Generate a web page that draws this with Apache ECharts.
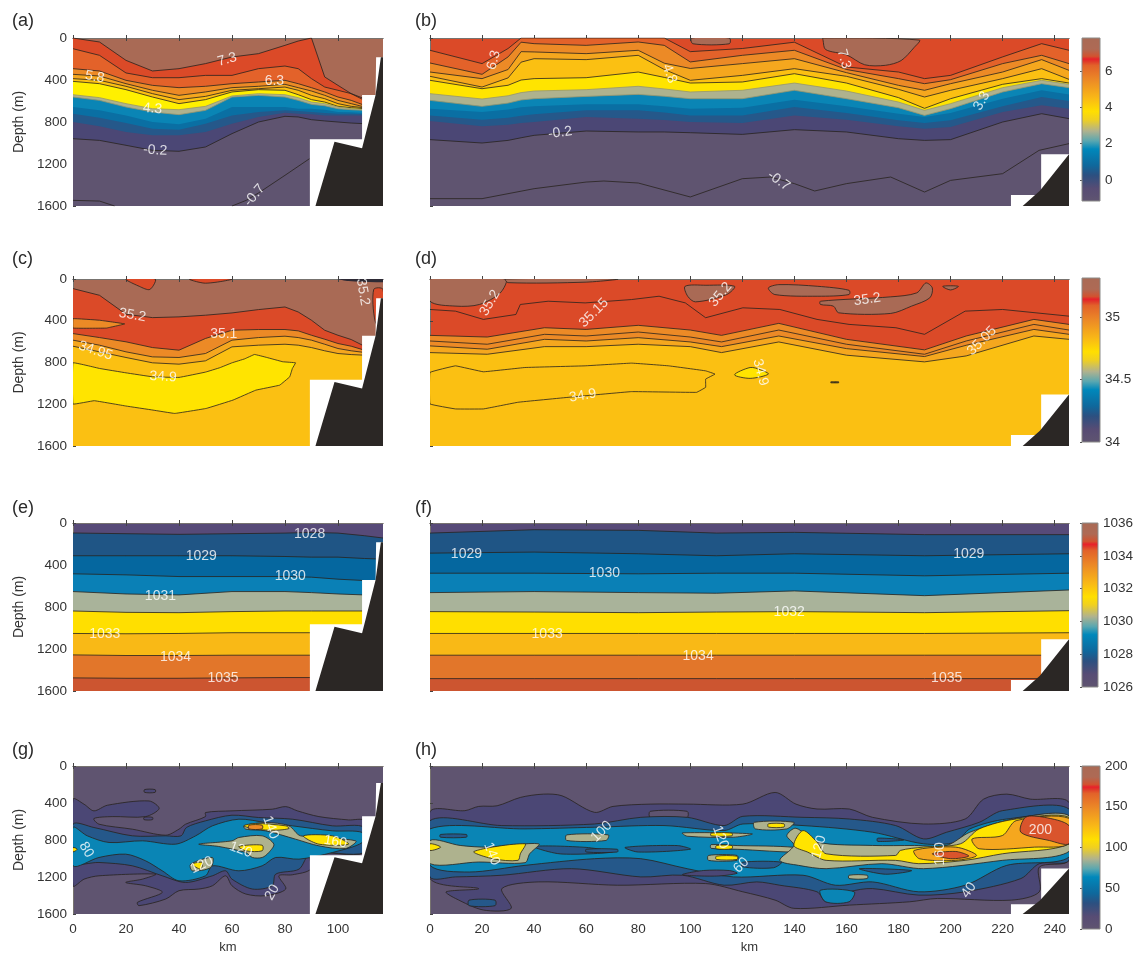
<!DOCTYPE html>
<html><head><meta charset="utf-8">
<script src="https://cdn.jsdelivr.net/npm/echarts@6/dist/echarts.min.js"></script>
<style>html,body{margin:0;background:#fff}#c{width:1136px;height:955px}</style></head>
<body><div id="c"></div>
<script>
// ---------- Palette names ----------
const BROWN='#a96a55',RED='#db4a28',ORED='#e3622a',ORANGE='#ec8a26',AMBER='#f5a71e',GOLD='#fbc012',YELLOW='#ffe400',BYELLOW='#fff000',
 SAGE='#aeb28e',LBLUE='#0a85b5',BLUE='#0a6fa3',DARK='#25588a',PURPLE='#4b4775',GRAY='#5f5470';
const LN='rgba(40,35,30,.8)',SL='rgba(150,150,110,.8)',NL='rgba(0,0,0,0)';

// ---------- Shared terrain ----------
const shortWhite=[[89.4,1600],[89.4,965],[109.1,965],[109.1,543],[114.2,543],[114.4,184],[117,184],[117,1600]];
const shortRock=[[91.5,1600],[98.7,987],[109.1,1050],[114.2,543],[116.2,184],[117,184],[117,1600]];
const longWhite=[[223.2,1600],[223.2,1495],[234.8,1495],[234.8,1107],[245.5,1107],[245.5,1600]];
const longRock=[[227.7,1600],[234.3,1454],[245.5,1107],[245.5,1600]];

// ---------- (a) temperature, short section ----------
const aKm=[0,10,20,30,40,50,60,70,80,85,90,95,100,105,110,117];
const aDepths=[
 [0,38,213,314,292,244,181,149,70,29,0,371,451,530,578,594],
 [102,165,333,378,378,356,356,292,267,292,387,467,498,530,594,610],
 [292,314,403,451,473,460,435,419,403,435,473,514,562,594,641,657],
 [346,362,435,498,546,514,473,460,441,473,505,546,594,625,657,657],
 [387,403,460,530,587,556,498,483,467,498,546,578,625,651,664,664],
 [413,435,492,562,625,587,514,492,498,540,587,610,651,664,673,673],
 [540,568,625,673,683,651,552,530,540,568,610,625,657,673,683,683],
 [562,594,657,705,730,689,562,546,562,594,632,645,673,683,689,689],
 [657,689,737,800,822,768,657,657,657,673,673,683,705,708,714,714],
 [721,759,810,864,873,816,737,705,689,695,705,714,721,721,727,727],
 [800,841,895,927,927,895,816,752,711,721,727,737,737,737,737,737],
 [959,975,1022,1070,1079,1038,911,800,746,752,778,790,800,810,816,816]];
const aFills=[RED,ORED,ORANGE,AMBER,GOLD,BYELLOW,SAGE,LBLUE,BLUE,DARK,PURPLE,GRAY];
const aStrokes=[LN,LN,LN,LN,LN,LN,SL,SL,NL,NL,NL,LN];
const aContours=[[[60,1600],[65.4,1546],[70,1476],[80,1308],[89.3,1149]],[[0,1546],[10,1553],[15.7,1600]]];
const aLabels=[[58.2,206,'7.3',15],[8.2,371,'5.8',-10],[76,413,'6.3',0],[30,673,'4.3',-5],[31,1070,'-0.2',-3],[68.5,1499,'-0.7',50]];

// ---------- (b) temperature, long section ----------
const bKm=[0,20,30,35,40,60,80,90,100,120,140,160,180,190,200,220,235,245.5];
const bDepths=[
 [117,244,100,0,0,0,0,0,130,100,40,276,324,387,356,180,54,117],
 [238,346,180,40,54,70,38,70,228,165,117,300,387,435,397,244,165,244],
 [324,387,300,130,133,149,117,240,290,244,197,330,451,498,435,324,206,308],
 [365,467,380,230,197,206,165,300,403,356,292,365,489,562,498,387,292,394],
 [403,483,450,400,387,378,324,375,429,419,340,429,568,670,578,441,387,429],
 [530,581,550,520,505,492,460,485,514,498,429,505,610,689,625,473,403,441],
 [594,651,620,590,578,556,537,555,578,578,498,578,664,737,673,514,435,473],
 [673,705,680,660,651,632,632,650,673,664,587,651,721,752,714,578,498,537],
 [737,778,760,740,727,689,689,710,737,737,657,714,784,810,784,651,562,600],
 [791,841,825,810,800,752,768,780,800,810,737,778,841,864,848,705,641,673],
 [968,1000,975,950,927,886,895,895,902,918,873,895,959,975,968,800,721,768]];
const bFills=[ORED,ORANGE,AMBER,GOLD,YELLOW,SAGE,LBLUE,BLUE,DARK,PURPLE,GRAY];
const bStrokes=[LN,LN,LN,LN,LN,SL,SL,NL,NL,NL,LN];
const bBrown=[[[151,20],[152,110],[160,160],[167,255],[175,260],[181,215],[186,90],[188,20],[151,0]],[[100.5,0],[101,55],[115,55],[115,0]]];
const bContours=[[[0,1530],[20,1530],[40,1435],[60,1372],[66.8,1362],[80,1381],[100,1514],[120,1340],[130.9,1324],[140,1387],[147.8,1457],[160,1387],[177,1324],[190,1467],[200,1356],[220,1292],[234,1070],[245.5,1006]]];
const bLabels=[[24.5,210,'6.3',75],[92,340,'4.8',-70],[159,200,'7.3',-75],[50,902,'-0.2',8],[134,1360,'-0.7',-35],[212,600,'3.3',60]];

// ---------- (c) salinity, short section ----------
const cDepths=[
 [92,156,338,370,363,347,325,293,268,316,395,491,539,580,644,650],
 [523,561,602,657,682,570,491,484,484,497,539,577,618,644,682,688],
 [586,634,698,746,752,714,586,561,548,561,586,625,666,688,704,704],
 [644,698,752,803,816,784,650,634,625,634,657,688,714,724,730,730]];
const cFills=[RED,ORANGE,AMBER,GOLD];
const cWedge=[[0,380],[10,395],[19.5,430],[12.6,470],[0,470]];
const cRedPatches=[[[20,0],[31,0],[29,100],[25,70]],[[44,0],[60,0],[50,40]],[[113.5,100],[117,100],[117,500],[114,400]]];
const cDark=[[100,0],[117,0],[117,30],[104,20]];
const cYellow=[[0,803],[10,857],[20,899],[30,937],[40,943],[50,892],[55.4,850],[60,803],[64.8,765],[68.5,723],[73.2,752],[79.2,793],[84,803],[82.8,857],[81.8,937],[78,1017],[69,1065],[60.4,1160],[50.3,1240],[38.4,1288],[30.2,1256],[20,1217],[8,1166],[0,1198]];
const cLabels=[[22.4,347,'35.2',-10],[56.9,529,'35.1',0],[8.5,688,'34.95',-18],[34,937,'34.9',-3],[109.4,125,'35.2',-80]];

// ---------- (d) salinity, long section ----------
const dKm=[0,22,44,60,80,100,112,134,160,190,206,232,245.5];
const dDepths=[
 [540,556,467,483,444,489,540,425,578,679,546,387,435],
 [594,625,530,546,508,556,603,489,625,721,594,435,489],
 [641,673,578,594,562,603,648,546,667,743,635,483,530],
 [705,721,648,648,625,648,705,603,730,794,737,546,578]];
const dFills=[ORANGE,ORANGE,AMBER,GOLD];
const dBrown=[
 [[0,0],[29,0],[27,133],[19,244],[10,260],[0,213]],
 [[29,0],[72,0],[60,30],[30,35]],
 [[98,70],[106,60],[117,70],[114,149],[102,219],[99,165]],
 [[130,86],[134,54],[149,70],[161,108],[161,149],[149,165],[132.5,149]],
 [[150,213],[177,171],[187,133],[190.5,38],[193,86],[192,181],[185,260],[177,330],[157,324],[155,260],[150,244]],
 [[197,70],[203,70],[200,105]]];
const dContours=[[[0,292],[9.8,308],[20.5,387],[33,340],[34.7,244],[45.4,213],[59.6,229],[77.4,197],[88,165],[98.1,229],[105.9,371],[120.2,276],[134.4,292],[148.7,387],[161,435],[179,467],[190,530],[205.6,308],[220,292],[245.5,356]]];
const dRing=[[0,895],[9.8,832],[20.5,889],[36.5,848],[59.6,832],[77.4,806],[91.7,832],[105.9,880],[109.5,911],[105.9,959],[105.9,1038],[102.4,1086],[77.4,1079],[53.4,1133],[33.8,1181],[20.5,1245],[9.8,1245],[0,1197]];
const dYellow=[[117,918],[123,848],[127,870],[130,911],[123,952]];
const dSpot=[[154,985],[157,985],[157,995],[154,995]];
const dLabels=[[23,229,'35.2',60],[63,324,'35.15',45],[111.6,149,'35.2',50],[168,197,'35.2',8],[212,594,'35.05',45],[58.7,1118,'34.9',10],[127,895,'34.9',-75]];

// ---------- (e) density, short section ----------
const eKm=[0,20,40,60,80,90,100,110,117];
const eDepths=[
 [95,102,108,102,96,90,96,121,143],
 [312,312,312,312,319,325,325,338,344],
 [484,494,510,510,510,516,535,548,548],
 [653,676,685,653,653,663,676,685,685],
 [838,851,854,844,838,838,838,838,838],
 [1052,1055,1052,1045,1045,1045,1045,1045,1045],
 [1256,1262,1262,1259,1259,1259,1259,1259,1259],
 [1475,1479,1479,1475,1472,1472,1472,1472,1472]];
const rhoFills=['#1f5585','#05679f','#0a80b6','#a9b39a','#ffdf00','#f9b916','#e2762a','#cc5530'];
const eLabels=[[89.3,102,'1028',0],[48.4,319,'1029',0],[82,510,'1030',0],[33,692,'1031',0],[12,1058,'1033',0],[38.7,1275,'1034',0],[56.6,1482,'1035',0]];

// ---------- (f) density, long section ----------
const fKm=[0,40,80,110,140,190,245.5];
const fDepths=[
 [96,64,70,96,89,111,111],
 [287,277,293,312,293,312,293],
 [478,478,484,478,478,503,478],
 [663,653,663,669,647,692,638],
 [844,848,854,848,844,854,835],
 [1052,1052,1052,1052,1052,1052,1045],
 [1259,1259,1259,1259,1259,1259,1259],
 [1482,1482,1482,1482,1482,1482,1482]];
const fLabels=[[14,293,'1029',0],[207,293,'1029',0],[67,478,'1030',0],[138,851,'1032',0],[45,1058,'1033',0],[103,1268,'1034',0],[198.5,1482,'1035',0]];

// ---------- (g) backscatter, short section ----------
const gPurple=[[0,360],[4.2,414],[7.9,485],[13,424],[28.7,378],[32.5,460],[27.4,547],[14.8,547],[7.9,568],[9.8,629],[22.4,683],[35,748],[40,683],[42.5,629],[50,547],[50,503],[60,485],[75.2,467],[80.3,439],[84.7,485],[92.8,547],[104,583],[110,593],[110,935],[89.7,942],[89.7,1115],[82.8,1176],[77.7,1187],[80.3,1330],[72.7,1402],[65.2,1384],[60,1295],[57.6,1187],[52.6,1295],[47.5,1330],[40,1348],[35,1438],[24.9,1510],[24.3,1474],[33.7,1366],[27.4,1295],[19.9,1259],[26.2,1223],[31.2,1169],[9.8,1187],[4.2,1223],[0,1295]];
const gSpecks=[[[27,255],[31,255],[31,285],[27,285]],[[26.8,555],[30,555],[30,580],[26.8,580]]];
const gDark=[[0,629],[7.9,665],[22.4,755],[35,755],[40.8,755],[42.8,665],[50,593],[60,532],[70,557],[82.8,575],[97.9,647],[110,665],[110,935],[89.7,942],[85.3,1115],[76.5,1169],[75.2,1295],[67.7,1330],[60,1223],[57.6,1133],[52.6,1187],[42.5,1259],[33.7,1187],[22.4,1079],[9.8,1043],[0,1043]];
const gBlue=[[0,665],[5.4,755],[13.6,827],[26.2,809],[38.7,845],[46.3,755],[52.6,647],[62.6,575],[72.7,611],[82.8,647],[97.9,701],[109.2,719],[109.2,827],[97.9,935],[85.3,1007],[76.5,989],[71.4,1079],[62.6,1133],[52.6,1079],[50,1187],[40,1241],[33.7,1133],[27.4,1025],[19.9,953],[9.8,989],[0,1079]];
const gSage=[
 [[47.5,845],[60,809],[62.6,773],[71.4,755],[75.8,845],[73.9,935],[71.4,989],[67.7,989],[65.2,935],[55,870]],
 [[64.5,647],[72.7,611],[81.5,647],[85.9,755],[106.7,809],[102.9,892],[92.8,863],[84,791],[72.7,701],[65.2,683]],
 [[44.4,1061],[52.6,989],[52,1097],[45,1133]]];
const gYellow=[
 [[64.5,647],[68.9,622],[80.3,647],[81.5,676],[76.5,694],[68.9,683]],
 [[62.6,870],[71.4,856],[71.4,917],[65.2,917]],
 [[87,755],[97.9,755],[104,845],[92.8,845]],
 [[45,1061],[48.8,1043],[48.2,1115]],
 [[0,881],[1.6,899],[0,928]]];
const gOrange=[[66.4,640],[71.4,640],[71.4,680],[66.4,680]];
const gLabels=[[5,906,'80',-60],[99,820,'160',-10],[63.3,906,'120',-20],[48.6,1072,'120',25],[74.6,665,'140',-70],[75.2,1366,'20',60]];

// ---------- (h) backscatter, long section ----------
const hPurple=[[0,494],[13.4,483],[18.7,437],[25.8,430],[34.7,340],[43.6,304],[50.7,322],[63.2,501],[70.3,437],[84.6,412],[98.8,412],[120.2,412],[132.6,286],[140.6,412],[148.7,465],[161.1,465],[170,555],[189.6,627],[205.6,573],[212.7,358],[221.6,304],[230.6,358],[245.5,394],[245.5,1020],[234.1,1092],[234.1,1360],[223.4,1450],[194.9,1432],[184.3,1468],[161.1,1504],[139.8,1539],[132.6,1450],[120.2,1360],[105.9,1271],[72.1,1289],[41.8,1253],[27.6,1325],[31.2,1539],[20.5,1557],[9.8,1432],[6.2,1360],[18.7,1325],[0,1217]];
const hHoles=[[[84.6,490],[98.8,490],[98.8,555],[84.6,555]]];
const hDark=[[0,591],[27.6,644],[63.2,627],[81,555],[98.8,555],[113,644],[120.2,544],[143.3,555],[161.1,573],[178.9,644],[189.6,788],[198.5,716],[211,609],[219.9,483],[245.5,465],[245.5,1020],[234.1,1056],[227,1217],[205.6,1360],[187.8,1396],[170,1325],[161.1,1360],[152.2,1468],[148.7,1360],[134.4,1289],[125.5,1253],[113,1289],[97,1181],[81,1199],[54.3,1110],[27.6,1181],[9.8,1199],[0,1199]];
const hBlue=[[0,680],[36.5,680],[63.2,662],[89.9,644],[113,698],[120.2,627],[143.3,644],[170,716],[189.6,841],[202,823],[207.4,680],[221.6,573],[245.5,555],[245.5,985],[221.6,1074],[205.6,1289],[187.8,1360],[170,1253],[155.8,1289],[143.3,1181],[116.6,1199],[98.8,1110],[81,1002],[63.2,1002],[36.5,1074],[15.1,1146],[0,1074]];
const hBlueLow=[[150,1343],[163,1360],[161,1468],[152,1468]];
const hPatchDark=[[15,1450],[25,1450],[25,1510],[15,1510]];
const hPurpleHole=[[105,1130],[115,1130],[118,1160],[110,1190],[97,1175]];
const hDarkSpots=[
 [[40,870],[60,880],[70,930],[50,950]],
 [[75,880],[95,860],[100,900],[80,930]],
 [[4,740],[14,740],[14,770],[4,770]],
 [[60,900],[72,900],[72,930],[60,930]],
 [[120,1040],[135,1040],[132,1100],[120,1090]],
 [[165,1110],[185,1130],[175,1170]],
 [[172,780],[182,800],[172,815]]];
const hSage=[
 [[0,805],[11.6,859],[22.3,877],[41.8,841],[38.3,949],[36.5,1045],[18.7,1038],[0,1056]],
 [[52.5,745],[68.5,745],[67.6,805],[52.5,805]],
 [[97,723],[123.7,734],[116.6,770],[98.8,759]],
 [[108,850],[118,860],[140,880],[142,930],[118,900],[108,890]],
 [[107,967],[118,967],[118,1020],[107,1020]],
 [[124.6,609],[139.8,609],[137,680],[125,680]],
 [[161,1181],[168,1181],[168,1217],[161,1217]],
 [[134.4,1020],[139.8,859],[137.1,752],[140.6,673],[148.7,823],[170,859],[186.1,859],[198.5,859],[207.4,716],[225.2,566],[245.5,537],[245.5,924],[219.9,1020],[189.6,1110],[173.6,1056],[152.2,1110],[141.6,1074]]];
const hYellow=[
 [[139.8,859],[143.3,698],[148.7,823],[152.2,949],[178.9,967],[180.7,913],[189.6,877],[203.8,841],[211,680],[225.2,573],[245.5,555],[245.5,841],[219.9,949],[205.6,1020],[187.8,1056],[178.9,1020],[152.2,1020],[145.1,931]],
 [[16.9,924],[36.5,841],[34.7,949],[33.8,1020],[24,1002]],
 [[0,841],[4.1,877],[0,913]],
 [[108,726],[116,726],[116,755],[108,755]],
 [[110,860],[116,860],[116,895],[110,895]],
 [[110,975],[118,975],[118,1010],[110,1010]],
 [[130,625],[136,625],[136,660],[130,660]]];
const hAmber=[
 [[208.3,788],[219.9,752],[225.2,591],[245.5,566],[245.5,841],[232.3,877],[211,895]],
 [[186,913],[202,877],[210,967],[202,1020],[188,1002]]];
const hRed=[
 [[228.8,555],[236,555],[245.5,644],[245.5,841],[238,806],[227,716]],
 [[193,949],[202,924],[207,974],[200,1002]]];
const hLabels=[[65.9,709,'100',45],[23.7,949,'140',-70],[111.6,770,'120',-70],[119.6,1074,'60',45],[149.5,877,'120',75],[196,949,'160',90],[234.5,691,'200',0],[207,1343,'40',55]];

// ---------- Axes, colour bars, panel text ----------
const depthTicks=[0,400,800,1200,1600];
const shortKmTicks=[0,20,40,60,80,100];
const longKmTicks=[0,20,40,60,80,100,120,140,160,180,200,220,240];
const panelNames=['(a)','(b)','(c)','(d)','(e)','(f)','(g)','(h)'];
const tempBar={min:-1.15,max:7.8,ticks:[0,2,4,6]};
const saltBar={min:34,max:35.31,ticks:[34,34.5,35]};
const rhoBar={min:1026,max:1036,ticks:[1026,1028,1030,1032,1034,1036]};
const bsBar={min:0,max:200,ticks:[0,50,100,150,200]};
const barStops=[[0,'#5f5470'],[.08,'#574c74'],[.16,'#2c5080'],[.22,'#0f689c'],[.32,'#0088bb'],[.37,'#5aa7b0'],[.43,'#b0b28e'],[.5,'#f0d020'],[.55,'#ffdf00'],[.63,'#f9b916'],[.74,'#ec8a26'],[.83,'#e2622a'],[.855,'#e0382a'],[.868,'#e8202a'],[.885,'#d2522f'],[.93,'#ae6a55'],[1,'#a96a55']];

const FONT='"Liberation Sans",Arial,sans-serif';
const plain=v=>String(v);
const W=[310,639],L=[73,430],T=[38,279,523,766],H=[168,167,168,150];
const grids=[],xAxes=[],yAxes=[],series=[],titles=[];
const axisLine={lineStyle:{color:'#77736f',width:1}};
function tickStyle(vals){return {show:true,inside:true,length:3,customValues:vals,lineStyle:{color:'#444',width:1}};}
for(let i=0;i<8;i++){
  const col=i%2,row=i>>1,xMax=col?245.5:117,kt=col?longKmTicks:shortKmTicks;
  grids.push({left:L[col],top:T[row],width:W[col],height:H[row],show:true,borderWidth:0,
    backgroundColor:[BROWN,RED,BROWN,RED,'#574a78','#574a78',GRAY,GRAY][i]});
  const last=row===3;
  xAxes.push({type:'value',gridIndex:i,min:0,max:xMax,position:'bottom',axisLine,axisTick:tickStyle(kt),splitLine:{show:false},
    axisLabel:{show:last,color:'#333',fontFamily:FONT,fontSize:13.5,margin:8,customValues:kt,formatter:plain},
    name:last?'km':'',nameLocation:'middle',nameGap:27,nameTextStyle:{color:'#333',fontFamily:FONT,fontSize:13}});
  xAxes.push({type:'value',gridIndex:i,min:0,max:xMax,position:'top',axisLine,axisTick:tickStyle(kt),axisLabel:{show:false},splitLine:{show:false}});
  yAxes.push({type:'value',gridIndex:i,min:0,max:1600,inverse:true,position:'left',axisLine,axisTick:tickStyle(depthTicks),splitLine:{show:false},
    axisLabel:{show:!col,color:'#333',fontFamily:FONT,fontSize:13.5,margin:6,customValues:depthTicks,formatter:plain},
    name:col?'':'Depth (m)',nameLocation:'middle',nameGap:47,nameRotate:90,nameTextStyle:{color:'#333',fontFamily:FONT,fontSize:14}});
  titles.push({text:panelNames[i],left:[7,410][col],top:[7,245,494,736][row],textStyle:{fontFamily:FONT,fontWeight:'normal',fontSize:18,color:'#2a2a2a'}});
}
const bars=[tempBar,saltBar,rhoBar,bsBar],barTop=[38,278,523,766],barH=[163,164,164,163];
bars.forEach((b,k)=>{
  const g=8+k;
  grids.push({left:1082,top:barTop[k],width:18,height:barH[k]});
  xAxes.push({type:'value',gridIndex:g,min:0,max:1,show:false});
  yAxes.push({type:'value',gridIndex:g,min:b.min,max:b.max,position:'right',scale:true,
    axisLine:{show:false},splitLine:{show:false},
    axisTick:{show:true,inside:true,length:2,customValues:b.ticks,lineStyle:{color:'#555'}},
    axisLabel:{show:true,color:'#333',fontFamily:FONT,fontSize:13.5,margin:5,customValues:b.ticks,hideOverlap:false,formatter:plain}});
  series.push({type:'custom',coordinateSystem:'cartesian2d',xAxisIndex:8*2+k,yAxisIndex:g,silent:true,data:[[0,b.min,1,b.max]],
    renderItem:(p,api)=>{const a=api.coord([0,b.max]),c=api.coord([1,b.min]);
      return {type:'rect',shape:{x:a[0],y:a[1],width:c[0]-a[0],height:c[1]-a[1]},
        style:{stroke:'#8a8a88',lineWidth:1,fill:new echarts.graphic.LinearGradient(0,1,0,0,barStops.map(s=>({offset:s[0],color:s[1]})))}};}});
});

function iso(i,km,d,fill,stroke){
  series.push({type:'line',xAxisIndex:i*2,yAxisIndex:i,showSymbol:false,silent:true,smooth:false,animation:false,z:3,
    data:km.map((x,j)=>[x,d[j]]),lineStyle:{color:stroke||LN,width:1},areaStyle:{color:fill,opacity:1,origin:'end'}});
}
function contour(i,pts,color){
  series.push({type:'line',xAxisIndex:i*2,yAxisIndex:i,showSymbol:false,silent:true,animation:false,z:3,data:pts,lineStyle:{color:color||LN,width:1}});
}
function blob(i,pts,fill,stroke,smooth){
  series.push({type:'custom',coordinateSystem:'cartesian2d',xAxisIndex:i*2,yAxisIndex:i,clip:true,silent:true,animation:false,z:3,data:pts,
    renderItem:(p,api)=>p.dataIndex?null:({type:'polygon',shape:{points:pts.map(q=>api.coord(q)),smooth:smooth===undefined?.3:smooth},
      style:{fill:fill,stroke:stroke===undefined?LN:stroke,lineWidth:1}})});
}
function labels(i,list){
  series.push({type:'scatter',xAxisIndex:i*2,yAxisIndex:i,silent:true,animation:false,symbolSize:1,z:6,itemStyle:{color:'rgba(0,0,0,0)'},
    data:list.map(l=>({value:[l[0],l[1]],label:{show:true,position:'inside',formatter:l[2],rotate:l[3],color:'#fff',fontFamily:FONT,fontSize:14}}))});
}
function terrain(i,white,rock){
  series.push({type:'custom',coordinateSystem:'cartesian2d',xAxisIndex:i*2,yAxisIndex:i,clip:true,silent:true,animation:false,z:4,data:[[white[0][0],white[0][1]]],
    renderItem:(p,api)=>({type:'group',children:[
      {type:'polygon',shape:{points:white.map(q=>api.coord(q))},style:{fill:'#fff'}},
      {type:'polygon',shape:{points:rock.map(q=>api.coord(q))},style:{fill:'#2b2725'}}]})});
}

// (a)
aDepths.forEach((d,k)=>iso(0,aKm,d,aFills[k],aStrokes[k]));
aContours.forEach(c=>contour(0,c));
terrain(0,shortWhite,shortRock);labels(0,aLabels);
// (b)
bDepths.forEach((d,k)=>iso(1,bKm,d,bFills[k],bStrokes[k]));
bBrown.forEach(p=>blob(1,p,BROWN));
bContours.forEach(c=>contour(1,c));
terrain(1,longWhite,longRock);labels(1,bLabels);
// (c)
cDepths.forEach((d,k)=>iso(2,aKm,d,cFills[k]));
blob(2,cWedge,ORANGE,LN,.05);
cRedPatches.forEach(p=>blob(2,p,RED));
blob(2,cDark,'#2d2a35',NL);
blob(2,cYellow,YELLOW,LN,.05);
terrain(2,shortWhite,shortRock);labels(2,cLabels);
// (d)
dDepths.forEach((d,k)=>iso(3,dKm,d,dFills[k]));
dBrown.forEach(p=>blob(3,p,BROWN));
dContours.forEach(c=>contour(3,c));
blob(3,dRing,'rgba(0,0,0,0)',LN,.05);
blob(3,dYellow,YELLOW,LN);
blob(3,dSpot,LN,LN,.05);
terrain(3,longWhite,longRock);labels(3,dLabels);
// (e),(f)
eDepths.forEach((d,k)=>iso(4,eKm,d,rhoFills[k]));
terrain(4,shortWhite,shortRock);labels(4,eLabels);
fDepths.forEach((d,k)=>iso(5,fKm,d,rhoFills[k]));
terrain(5,longWhite,longRock);labels(5,fLabels);
// (g)
blob(6,gPurple,PURPLE);
gSpecks.forEach(p=>blob(6,p,PURPLE));
blob(6,gDark,DARK);
blob(6,gBlue,LBLUE);
gSage.forEach(p=>blob(6,p,SAGE));
gYellow.forEach(p=>blob(6,p,YELLOW));
blob(6,gOrange,ORANGE);
terrain(6,shortWhite,shortRock);labels(6,gLabels);
// (h)
blob(7,hPurple,PURPLE);
hHoles.forEach(p=>blob(7,p,GRAY));
blob(7,hPatchDark,DARK);
blob(7,hDark,DARK);
blob(7,hBlue,LBLUE);
blob(7,hBlueLow,LBLUE);
blob(7,hPurpleHole,PURPLE);
hDarkSpots.forEach(p=>blob(7,p,DARK));
hSage.forEach(p=>blob(7,p,SAGE));
hYellow.forEach(p=>blob(7,p,YELLOW));
hAmber.forEach(p=>blob(7,p,AMBER));
hRed.forEach(p=>blob(7,p,'#d9542c'));
terrain(7,longWhite,longRock);labels(7,hLabels);

const chart=echarts.init(document.getElementById('c'),null,{renderer:'canvas'});
chart.setOption({animation:false,backgroundColor:'#fff',title:titles,grid:grids,xAxis:xAxes,yAxis:yAxes,series:series});
</script></body></html>
